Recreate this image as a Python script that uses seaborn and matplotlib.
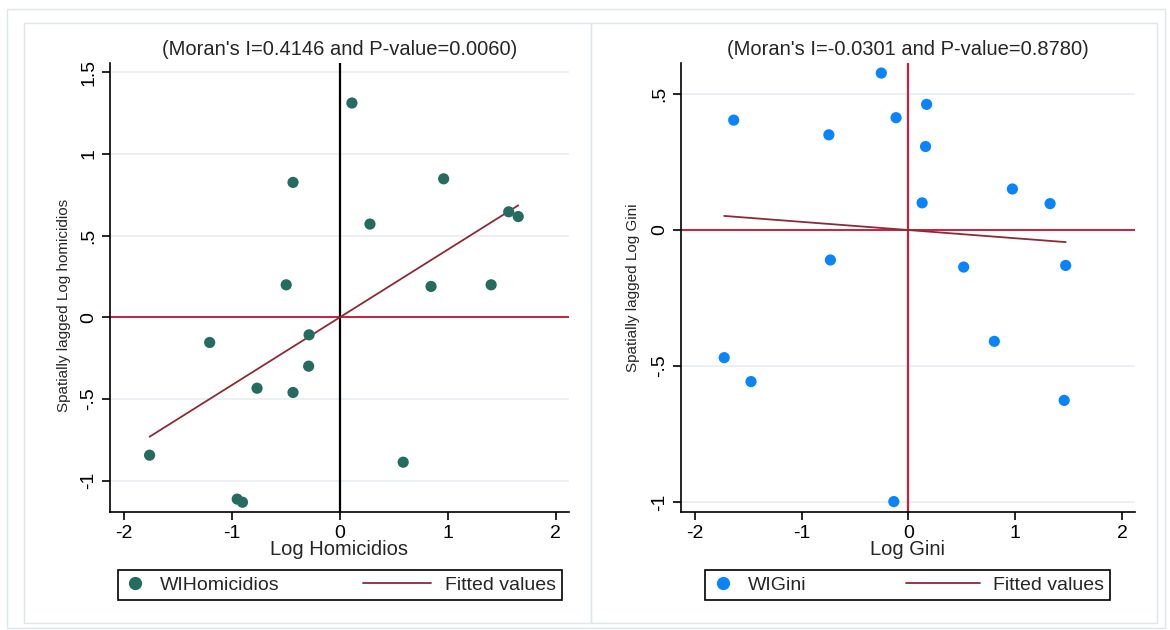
import numpy as np
import pandas as pd
import matplotlib.pyplot as plt
import seaborn as sns
from matplotlib.lines import Line2D
from matplotlib.patches import Rectangle
from matplotlib.legend_handler import HandlerLine2D

# left panel: log homicidios vs spatial lag
hom_x = [0.112, -0.434, 0.962, 0.279, 1.565, 1.653, -0.497, 0.845, 1.402,
         -1.206, -0.285, -0.289, -0.767, -0.434, -1.763, 0.587, -0.951, -0.902]
hom_wy = [1.312, 0.826, 0.848, 0.571, 0.646, 0.617, 0.199, 0.189, 0.199,
          -0.154, -0.107, -0.299, -0.434, -0.460, -0.844, -0.887, -1.113, -1.132]
hom_moran = 0.4146
hom_p = 0.0060
hom_yticks = [-1, -0.5, 0, 0.5, 1, 1.5]
hom_ylabels = ["-1", "-.5", "0", ".5", "1", "1.5"]

# right panel: log gini vs spatial lag
gini_x = [-0.254, 0.170, -1.636, -0.116, -0.745, 0.160, 0.973, 0.128, 1.326,
          -0.731, 0.517, 1.472, 0.804, -1.725, -1.474, 1.458, -0.137]
gini_wy = [0.577, 0.462, 0.404, 0.413, 0.350, 0.307, 0.151, 0.100, 0.097,
           -0.110, -0.136, -0.130, -0.409, -0.469, -0.557, -0.626, -0.998]
gini_moran = -0.0301
gini_p = 0.8780
gini_yticks = [-1, -0.5, 0, 0.5]
gini_ylabels = ["-1", "-.5", "0", ".5"]

xticks = [-2, -1, 0, 1, 2]

sns.set_style("ticks")
plt.rcParams['font.family'] = ['Liberation Sans', 'DejaVu Sans']

FIT = '#8e2a37'
RED = '#c8203f'
GRID = '#e6eef1'
BOX = '#dde6ea'
FS = 14.5


class LongLine(HandlerLine2D):
    # stata draws the fitted-values key longer than the marker key
    def __init__(self, extra, **kw):
        super().__init__(**kw)
        self.extra = extra

    def get_xdata(self, legend, xdescent, ydescent, width, height, fontsize):
        xd, xm = super().get_xdata(legend, xdescent, ydescent, width, height, fontsize)
        return [xd[0] - self.extra, xd[1]], xm


fig = plt.figure(figsize=(11.7, 6.3), dpi=100)

# stata-like graph region boxes
for (x0, y0, x1, y1) in [(7, 9, 1165, 628), (24, 23, 591, 623), (591, 23, 1157, 623)]:
    fig.patches.append(Rectangle((x0 / 1170, 1 - y1 / 630), (x1 - x0) / 1170, (y1 - y0) / 630,
                                 transform=fig.transFigure, fill=False, ec=BOX, lw=1))

ax1 = fig.add_axes([0.094, 0.187, 0.392, 0.713])
ax2 = fig.add_axes([0.582, 0.187, 0.388, 0.713])


def panel(ax, x, wy, moran, pval, color, vcolor, xlabel, ylabel, ylim, yticks, ylabels,
          name, leg_x0, leg_w, ylab_y, extra):
    df = pd.DataFrame({'x': x, 'wy': wy})
    df['fit'] = moran * df['x']

    for t in yticks:
        if t != 0:
            ax.axhline(t, color=GRID, lw=1.2, zorder=0)
    ax.axhline(0, color=RED, lw=1.4, zorder=1)
    ax.axvline(0, color=vcolor, lw=1.6, zorder=1)

    sns.scatterplot(data=df, x='x', y='wy', color=color, s=65, edgecolor='none',
                    ax=ax, zorder=3, legend=False)
    sns.lineplot(data=df, x='x', y='fit', color=FIT, lw=1.3, ax=ax, zorder=2)

    ax.set_xlim(-2.13, 2.12)
    ax.set_ylim(*ylim)
    ax.set_xticks(xticks)
    ax.set_xticklabels([str(t) for t in xticks])
    ax.set_yticks(yticks)
    ax.set_yticklabels(ylabels, rotation=90, va='center')
    ax.tick_params(direction='out', length=6, width=1.2, labelsize=FS - 0.5, pad=3, colors='black')
    for s in ['top', 'right']:
        ax.spines[s].set_visible(False)
    for s in ['left', 'bottom']:
        ax.spines[s].set_color('black')
        ax.spines[s].set_linewidth(1.2)

    ax.set_title(f"(Moran's I={moran:.4f} and P-value={pval:.4f})", fontsize=FS, pad=6)
    ax.set_xlabel(xlabel, fontsize=FS, labelpad=-1)
    ax.set_ylabel(ylabel, fontsize=11, labelpad=3)
    ax.yaxis.set_label_coords(-0.085 if leg_x0 < 0.5 else -0.09, ylab_y)

    handles = [Line2D([], [], marker='o', ls='none', color=color, markersize=8.5),
               Line2D([], [], color=FIT, lw=1.3)]
    ax.legend(handles, [name, 'Fitted values'], ncol=2, mode='expand', loc='center',
              bbox_to_anchor=(leg_x0, 1 - 601 / 630, leg_w, 32 / 630),
              bbox_transform=fig.transFigure, fontsize=FS - 0.5, frameon=True,
              fancybox=False, edgecolor='black', framealpha=1, handlelength=1.2,
              handletextpad=0.7, borderpad=0.3, borderaxespad=0,
              handler_map={handles[1]: LongLine(extra)})
    ax.get_legend().get_frame().set_linewidth(1.2)


panel(ax1, hom_x, hom_wy, hom_moran, hom_p, '#266b5f', 'black', 'Log Homicidios',
      'Spatially lagged Log homicidios', (-1.193, 1.557), hom_yticks, hom_ylabels,
      'WIHomicidios', 117.5 / 1170, 444 / 1170, 0.46, 32)
panel(ax2, gini_x, gini_wy, gini_moran, gini_p, '#0a84fb', RED, 'Log Gini',
      'Spatially lagged Log Gini', (-1.037, 0.614), gini_yticks, gini_ylabels,
      'WIGini', 705 / 1170, 405 / 1170, 0.5, 36)

fig.savefig('out.png', dpi=100)
